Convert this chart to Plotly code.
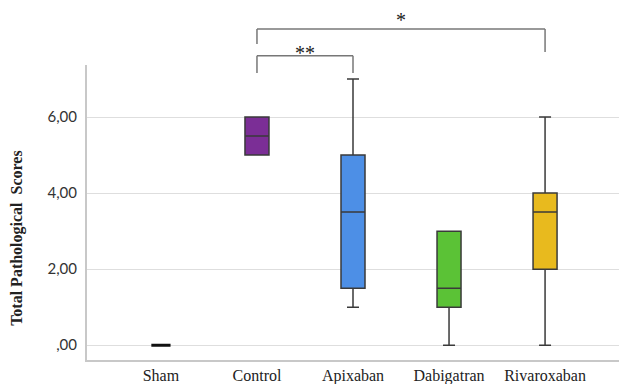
import plotly.graph_objects as go

categories = ["Sham", "Control", "Apixaban", "Dabigatran", "Rivaroxaban"]
q1 = [0, 5, 1.5, 1, 2]
median = [0, 5.5, 3.5, 1.5, 3.5]
q3 = [0, 6, 5, 3, 4]
lower = [0, 5, 1, 0, 0]
upper = [0, 6, 7, 3, 6]
colors = ["#111111", "#7B2E96", "#4D8FE6", "#5BC236", "#E8BA1E"]
tick_vals = [0, 2, 4, 6]
tick_text = [",00", "2,00", "4,00", "6,00"]

fig = go.Figure()
for i, c in enumerate(categories):
    fig.add_trace(go.Box(
        x=[c], q1=[q1[i]], median=[median[i]], q3=[q3[i]],
        lowerfence=[lower[i]], upperfence=[upper[i]],
        fillcolor=colors[i], opacity=1,
        line=dict(color="#3a3a3a" if i else "#111111", width=1.5 if i else 3),
        width=0.25 if i else 0.2, whiskerwidth=0.5, showlegend=False, hoverinfo="skip",
    ))

brk = dict(color="#777777", width=1.5)
shapes = [
    dict(type="line", xref="x", yref="paper", x0=1, x1=4, y0=1.122, y1=1.122, line=brk),
    dict(type="line", xref="x", yref="paper", x0=1, x1=1, y0=1.122, y1=1.071, line=brk),
    dict(type="line", xref="x", yref="paper", x0=4, x1=4, y0=1.122, y1=1.044, line=brk),
    dict(type="line", xref="x", yref="paper", x0=1, x1=2, y0=1.031, y1=1.031, line=brk),
    dict(type="line", xref="x", yref="paper", x0=1, x1=1, y0=1.031, y1=0.973, line=brk),
    dict(type="line", xref="x", yref="paper", x0=2, x1=2, y0=1.031, y1=0.973, line=brk),
]

annotations = [
    dict(text="*", x=2.5, y=1.195, xref="x", yref="paper", showarrow=False,
         font=dict(family="Liberation Serif", size=20, color="#222")),
    dict(text="**", x=1.5, y=1.085, xref="x", yref="paper", showarrow=False,
         font=dict(family="Liberation Serif", size=20, color="#222")),
    dict(text="<b>Total Pathological  Scores</b>", x=0, xshift=-81,
         xref="paper", y=0.414, yref="paper", showarrow=False, textangle=-90,
         font=dict(family="Liberation Serif", size=16, color="#222")),
]

fig.update_layout(
    width=619, height=384,
    margin=dict(l=87, r=0, t=65, b=24, autoexpand=False),
    paper_bgcolor="white", plot_bgcolor="white",
    shapes=shapes, annotations=annotations,
    xaxis=dict(type="category", categoryorder="array", categoryarray=categories,
               range=[-0.77, 4.77], showline=True, linecolor="#c8c8c8", linewidth=2,
               showgrid=False, ticks="", zeroline=False, automargin=False,
               tickfont=dict(family="Liberation Serif", size=16, color="#222")),
    yaxis=dict(range=[-0.39, 7.37], tickvals=tick_vals, ticktext=tick_text,
               showline=True, linecolor="#c8c8c8", linewidth=2, automargin=False,
               showgrid=True, gridcolor="#dedede", gridwidth=1.2, zeroline=False, ticks="",
               ticklabelstandoff=5,
               tickfont=dict(family="Lato", size=15, color="#333")),
)

html = fig.to_html(full_html=True, config={"displayModeBar": False})
html = html.replace("<head>", "<head><style>html,body{margin:0;padding:0;}</style>", 1)
with open("out.html", "w", encoding="utf-8") as f:
    f.write(html)
